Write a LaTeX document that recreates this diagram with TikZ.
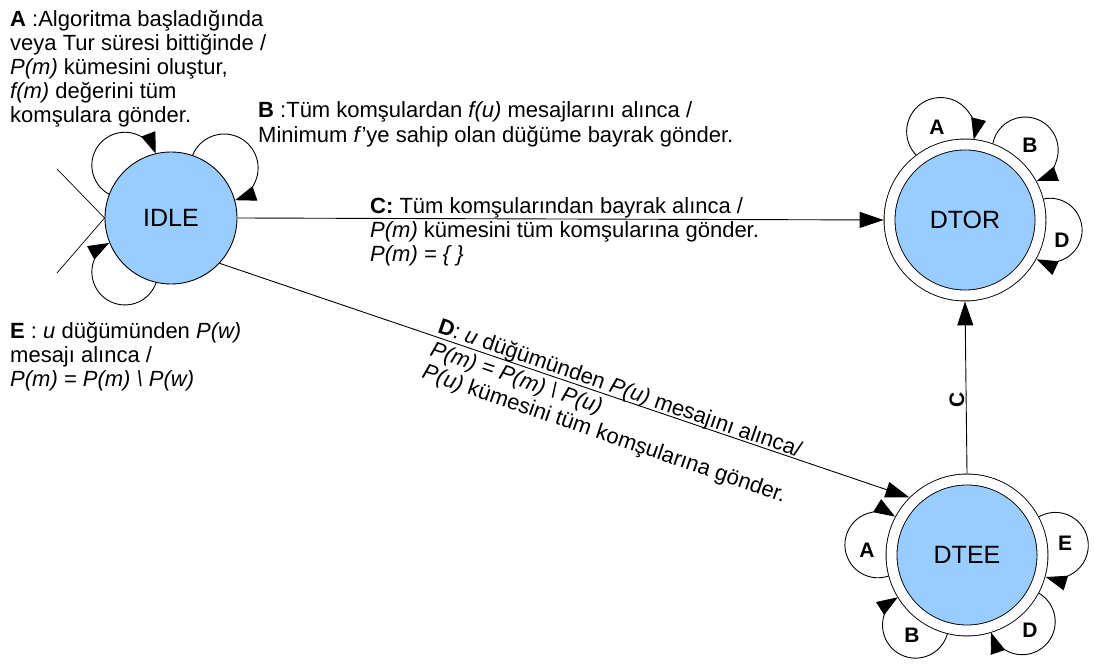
\documentclass[tikz,border=0pt]{standalone}
\usepackage{fontspec}
\setmainfont{Liberation Sans}
\usetikzlibrary{arrows.meta}
\definecolor{stfill}{RGB}{153,204,255}
% Self loop as a circular arc outside a circular node.
% #1 node, #2 node border radius, #3 direction of loop centre,
% #4 distance of loop centre, #5 loop radius
\newcommand{\loopat}[5]{%
  \pgfmathsetmacro{\lpbeta}{acos((#2*#2+#4*#4-#5*#5)/(2*#2*#4))}%
  \pgfmathsetmacro{\lpgamma}{acos((#5*#5+#4*#4-#2*#2)/(2*#5*#4))}%
  \pgfmathtruncatemacro{\lpanchor}{round(#3+\lpbeta)}%
  \pgfmathsetmacro{\lpstart}{#3+180-\lpgamma}%
  \pgfmathsetmacro{\lpend}{#3-180+\lpgamma}%
  \draw[selfloop] (#1.\lpanchor) arc[start angle=\lpstart, end angle=\lpend, radius=#5];%
}
\begin{document}
\begin{tikzpicture}[x=1pt,y=1pt,
  stnode/.style={circle, draw, line width=0.9pt, fill=stfill, minimum size=132pt,
    inner sep=0pt, font=\fontsize{25}{30}\selectfont},
  finalst/.style={stnode, double=white, double distance=10pt, minimum size=151pt, outer sep=5.9pt},
  trans/.style={line width=0.9pt, -{Triangle[length=24pt,width=16pt]}},
  selfloop/.style={line width=0.9pt, -{Triangle[length=21pt,width=15pt]}},
  lbl/.style={font=\fontsize{21}{24}\selectfont\bfseries, inner sep=0pt},
  note/.style={align=left, inner sep=0pt, anchor=north west, font=\fontsize{22}{24}\selectfont}]
\useasboundingbox (0,0) rectangle (1094,664);

% states
\node[stnode] (idle) at (171,446) {IDLE};
\node[finalst] (dtor) at (965,444) {DTOR};
\node[finalst] (dtee) at (967,109) {DTEE};

% start marker
\coordinate (init1) at (57,495);
\coordinate (init2) at (57,391);
\draw[line width=0.7pt] (init1) -- (idle.west) -- (init2);

% transitions between states
\draw[trans] (idle.east) -- (dtor.west);
\draw[trans] (idle.-43) -- (dtee.135);
\draw[trans] (dtee.north) -- (dtor.south);
\node[lbl, rotate=90] (lc) at (957,264) {C};

% self loops on IDLE
\loopat{idle}{66.45}{131}{70.2}{33}
\loopat{idle}{66.45}{43.3}{72.9}{34}
\loopat{idle}{66.45}{229.6}{70.9}{33}

% self loops on DTOR
\loopat{dtor}{81.4}{105}{92}{34}
\loopat{dtor}{81.4}{49.4}{92.2}{33}
\loopat{dtor}{81.4}{-6.7}{85.6}{32}
\node[lbl] (ta) at (937,537) {A};
\node[lbl] (tb) at (1030,519) {B};
\node[lbl] (td) at (1062,424) {D};

% self loops on DTEE
\loopat{dtee}{81.4}{173.6}{89.6}{33}
\loopat{dtee}{81.4}{233.4}{87.2}{33}
\loopat{dtee}{81.4}{-50.6}{86.7}{33}
\loopat{dtee}{81.4}{6.5}{88.6}{33}
\node[lbl] (ea) at (867,114) {A};
\node[lbl] (eb) at (912,29) {B};
\node[lbl] (ed) at (1030,34) {D};
\node[lbl] (ee) at (1065,121) {E};

% transition descriptions
\node[note] (na) at (10,654) {\textbf{A} :Algoritma başladığında\\
veya Tur süresi bittiğinde /\\
\textit{P(m)} kümesini oluştur,\\
\textit{f(m)} değerini tüm\\
komşulara gönder.};

\node[note, font=\fontsize{22}{25}\selectfont] (nb) at (258,563) {\textbf{B} :Tüm komşulardan \textit{f(u)} mesajlarını alınca /\\
Minimum \textit{f}'ye sahip olan düğüme bayrak gönder.};

\node[note] (nc) at (370,467) {\textbf{C:} Tüm komşularından bayrak alınca /\\
\textit{P(m)} kümesini tüm komşularına gönder.\\
\textit{P(m) = \{ \}}};

\node[note, rotate=-19] (nd) at (442,347) {\textbf{D}: \textit{u} düğümünden \textit{P(u)} mesajını alınca/\\
\textit{P(m) = P(m) \textbackslash{} P(u)}\\
\textit{P(u)} kümesini tüm komşularına gönder.};

\node[note] (ne) at (10,342) {\textbf{E} : \textit{u} düğümünden \textit{P(w)}\\
mesajı alınca /\\
\textit{P(m) = P(m) \textbackslash{} P(w)}};
\end{tikzpicture}
\end{document}
